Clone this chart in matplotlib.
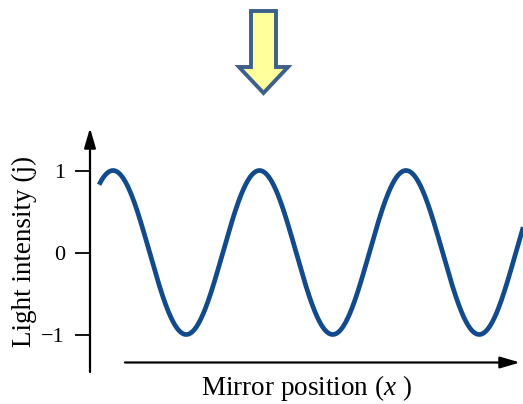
import numpy as np
import matplotlib
matplotlib.use("Agg")
import matplotlib.pyplot as plt
from matplotlib.patches import Polygon

# ---- data ----
# intensity = amplitude * cos(2*pi*(x - peak_position)/period), x in wavelengths
y_ticks = [-1, 0, 1]
y_tick_labels = ["\u22121", "0", "1"]
amplitude = 1.0
period = 1.0
peak_position = 0.0
x_start = -0.095
x_end = 2.80
n_samples = 600

x_label = "Mirror position ($x$ )"
y_label = "Light intensity (j)"

plt.rcParams["font.family"] = ["Liberation Serif", "DejaVu Serif"]
plt.rcParams["mathtext.fontset"] = "custom"
plt.rcParams["mathtext.it"] = "Liberation Serif:italic"
plt.rcParams["mathtext.rm"] = "Liberation Serif"

W, H = 523, 404
fig = plt.figure(figsize=(W / 100, H / 100), dpi=100)
fig.patch.set_facecolor("white")

# axes area in pixels: x 90..523, y 128 (top) .. 372 (bottom)
left, right, top, bottom = 90, 523, 128, 372
ax = fig.add_axes([left / W, 1 - bottom / H, (right - left) / W, (bottom - top) / H])

x = np.linspace(x_start, x_end, n_samples)
yv = amplitude * np.cos(2 * np.pi * (x - peak_position) / period)
ax.plot(x, yv, color="#124b8c", lw=3.4, solid_capstyle="butt")

# scale: 1 at pixel 170.5, -1 at pixel 334.5 ; peaks at pixel 113, period 146.5 px
px_per_unit_y = (334.5 - 170.5) / 2
y_center = (334.5 + 170.5) / 2
ax.set_ylim((y_center - bottom) / px_per_unit_y, (y_center - top) / px_per_unit_y)
px_per_period = 146.5
ax.set_xlim((left - 113) / px_per_period, (right - 113) / px_per_period)

for s in ax.spines.values():
    s.set_visible(False)
ax.set_xticks([])
ax.set_yticks(y_ticks)
ax.set_yticklabels(y_tick_labels)
ax.tick_params(axis="y", direction="out", length=11, width=1.3, pad=7,
               labelsize=16, color="black")

arrow_kw = dict(arrowstyle="-|>,head_length=1.2,head_width=0.35",
                mutation_scale=10, lw=1.6, color="black",
                shrinkA=0, shrinkB=0)
# y axis arrow
ax.annotate("", xy=(0, 1), xytext=(0, 0), xycoords="axes fraction",
            textcoords="axes fraction", arrowprops=arrow_kw)
# x axis arrow
xa0 = (125 - left) / (right - left)
xa1 = (520 - left) / (right - left)
ya = (bottom - 362.5) / (bottom - top)
ax.annotate("", xy=(xa1, ya), xytext=(xa0, ya), xycoords="axes fraction",
            textcoords="axes fraction", arrowprops=arrow_kw)

fig.text(306 / W, 1 - 388 / H, x_label, ha="center", va="center", fontsize=19.5)
fig.text(24 / W, 1 - 251 / H, y_label, ha="center", va="center",
         rotation=90, fontsize=19.5)

# decorative block arrow at top
pts = [(251, 11), (276, 11), (276, 67), (288, 67), (263.5, 93),
       (239, 67), (251, 67)]
poly = Polygon([(px / W, 1 - py / H) for px, py in pts], closed=True,
               transform=fig.transFigure, facecolor="#ffff9c",
               edgecolor="#3d5f8c", lw=2.8, joinstyle="miter")
fig.patches.append(poly)

fig.savefig("out.png", dpi=100, facecolor="white")
